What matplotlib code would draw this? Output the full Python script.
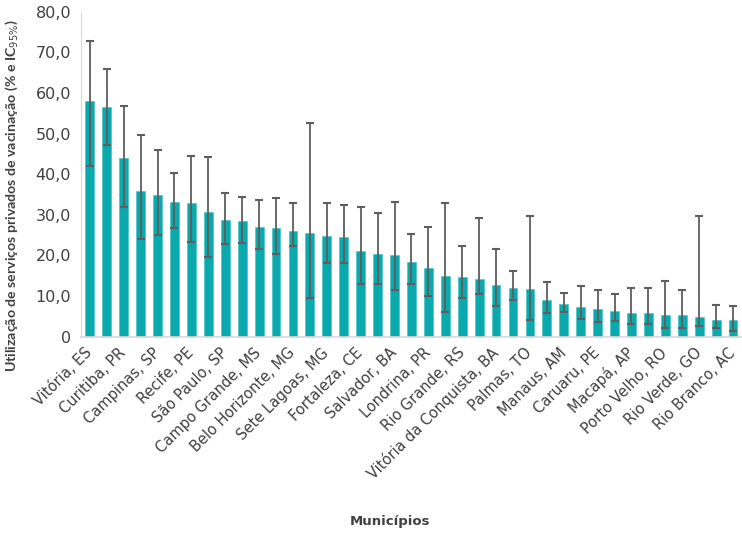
import numpy as np
import matplotlib
matplotlib.use("Agg")
import matplotlib.pyplot as plt
from matplotlib.ticker import FuncFormatter

# 39 municipalities, only every other one is labelled on the axis
tick_labels = ['Vitória, ES', 'Curitiba, PR', 'Campinas, SP', 'Recife, PE', 'São Paulo, SP',
               'Campo Grande, MS', 'Belo Horizonte, MG', 'Sete Lagoas, MG', 'Fortaleza, CE',
               'Salvador, BA', 'Londrina, PR', 'Rio Grande, RS', 'Vitória da Conquista, BA',
               'Palmas, TO', 'Manaus, AM', 'Caruaru, PE', 'Macapá, AP', 'Porto Velho, RO',
               'Rio Verde, GO', 'Rio Branco, AC']

values = [58.1, 56.6, 44.0, 35.8, 34.8, 33.2, 33.0, 30.6, 28.8, 28.4,
          27.1, 26.7, 25.9, 25.4, 24.9, 24.5, 21.0, 20.3, 20.2, 18.3,
          16.9, 15.0, 14.7, 14.2, 12.8, 12.0, 11.8, 8.9, 8.1, 7.4,
          6.7, 6.4, 5.9, 5.9, 5.4, 5.2, 4.9, 4.0, 4.0]
ci_upper = [72.8, 65.8, 56.9, 49.7, 46.0, 40.4, 44.4, 44.2, 35.4, 34.3,
            33.7, 34.1, 32.9, 52.5, 33.0, 32.4, 31.8, 30.5, 33.2, 25.2,
            27.1, 32.9, 22.2, 29.2, 21.5, 16.1, 29.8, 13.5, 10.8, 12.4,
            11.6, 10.6, 11.9, 11.9, 13.8, 11.5, 29.8, 7.8, 7.6]
ci_lower = [41.9, 47.1, 31.8, 24.0, 25.1, 26.7, 23.3, 19.6, 22.9, 23.1,
            21.5, 20.4, 22.3, 9.4, 18.2, 18.1, 13.0, 12.9, 11.6, 12.9,
            10.1, 6.0, 9.4, 10.4, 7.6, 8.9, 4.0, 5.8, 6.1, 4.4,
            3.7, 3.8, 3.0, 3.0, 2.0, 2.2, 2.5, 2.0, 1.3]

vals = np.array(values)
err = np.array([vals - np.array(ci_lower), np.array(ci_upper) - vals])
x = np.arange(len(vals))

text_color = '#404040'
plt.rcParams['font.family'] = ['DejaVu Sans']

fig = plt.figure(figsize=(7.42, 5.36), dpi=100)
ax = fig.add_axes([0.109, 0.372, 0.891, 0.606])

ax.bar(x, vals, width=0.52, color='#0aa9ad', edgecolor='#3cc0c3', linewidth=0.4, zorder=2)
ax.errorbar(x, vals, yerr=err, fmt='none', ecolor='#5e5e5e', elinewidth=1.3,
            capsize=3, capthick=1.5, zorder=3)

ax.set_xlim(-0.53, len(vals) - 0.47)
ax.set_ylim(0, 80)
ax.set_yticks(np.arange(0, 81, 10))
ax.yaxis.set_major_formatter(FuncFormatter(lambda v, p: '0' if v == 0 else f'{v:.1f}'.replace('.', ',')))
ax.tick_params(axis='y', length=0, labelsize=11.5, labelcolor=text_color, pad=7)

ax.set_xticks(x[::2])
ax.set_xticklabels(tick_labels, rotation=45, ha='right', va='center', rotation_mode='anchor',
                   fontsize=10.5, color=text_color)
ax.tick_params(axis='x', length=0, pad=10)

for s in ['top', 'right']:
    ax.spines[s].set_visible(False)
ax.spines['left'].set_color('#d9d9d9')
ax.spines['bottom'].set_color('#d9d9d9')
ax.spines['bottom'].set_linewidth(1.2)

ax.set_ylabel('Utilização de serviços privados de vacinação (% e IC$_{95\\%}$)',
              fontsize=10.2, fontweight='bold', color=text_color, family=['Lato', 'DejaVu Sans'])
ax.yaxis.set_label_coords(-0.092, 0.435)

fig.text(390 / 742, 1 - 522 / 536, 'Municípios', ha='center', va='center',
         fontsize=9.5, fontweight='bold', color=text_color)

fig.savefig('out.png', dpi=100)
